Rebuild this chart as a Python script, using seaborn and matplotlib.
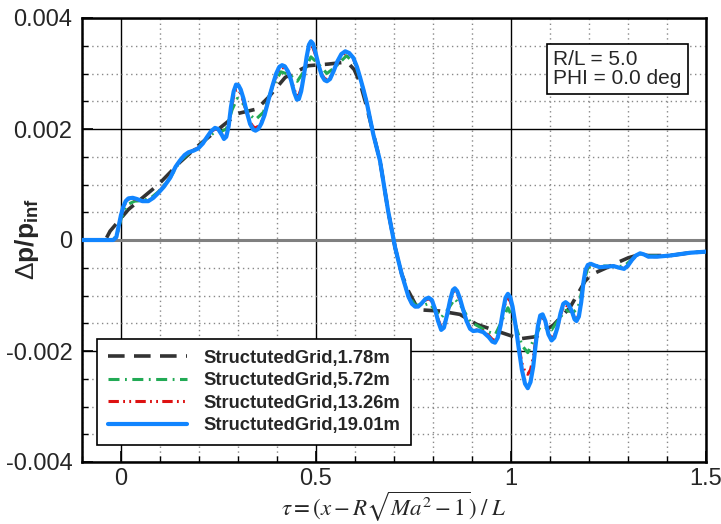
import numpy as np
import pandas as pd
import matplotlib
matplotlib.use("Agg")
import matplotlib.pyplot as plt
from matplotlib.ticker import MultipleLocator
import seaborn as sns

# ---- data: pressure signature, tau vs dp/p_inf ----
tau_g1 = [-0.10, -0.04, -0.028, 0.019, 0.096, 0.151, 0.203, 0.245, 0.300, 0.348,
          0.378, 0.421, 0.480, 0.532, 0.570, 0.585, 0.598, 0.613, 0.628, 0.643,
          0.664, 0.685, 0.703, 0.720, 0.737, 0.755, 0.771, 0.818, 0.869, 0.912,
          0.955, 1.023, 1.066, 1.109, 1.151, 1.190, 1.207, 1.245, 1.275, 1.301,
          1.331, 1.352, 1.408, 1.459, 1.500]
dp_g1 = [0.0, 0.0, 0.00016, 0.00055, 0.00100, 0.00140, 0.00173, 0.00197, 0.00228, 0.00236,
         0.00257, 0.00293, 0.00314, 0.00317, 0.00320, 0.00317, 0.00307, 0.00283, 0.00245, 0.00203,
         0.00143, 0.00052, -0.00014, -0.00062, -0.00092, -0.00116, -0.00126, -0.00128, -0.00134, -0.00152,
         -0.00162, -0.00178, -0.00174, -0.00153, -0.00122, -0.00074, -0.00062, -0.00050, -0.00040, -0.00032,
         -0.00026, -0.00028, -0.00028, -0.00023, -0.00021]

tau_g2 = [-0.10, -0.02, -0.010, 0.000, 0.010, 0.020, 0.035, 0.055, 0.075, 0.096,
          0.126, 0.151, 0.175, 0.198, 0.220, 0.241, 0.258, 0.270, 0.285, 0.298,
          0.314, 0.331, 0.345, 0.365, 0.388, 0.410, 0.432, 0.452, 0.470, 0.487,
          0.505, 0.528, 0.550, 0.578, 0.600, 0.613, 0.630, 0.647, 0.664, 0.685,
          0.703, 0.720, 0.737, 0.754, 0.775, 0.790, 0.805, 0.821, 0.838, 0.856,
          0.875, 0.895, 0.915, 0.940, 0.960, 0.975, 0.992, 1.010, 1.028, 1.043,
          1.058, 1.075, 1.090, 1.104, 1.122, 1.140, 1.160, 1.172, 1.186, 1.197,
          1.215, 1.245, 1.270, 1.290, 1.310, 1.331, 1.352, 1.408, 1.459, 1.500]
dp_g2 = [0.0, 0.0, 0.00010, 0.00038, 0.00055, 0.00065, 0.00070, 0.00071, 0.00075, 0.00087,
         0.00112, 0.00142, 0.00157, 0.00167, 0.00183, 0.00195, 0.00196, 0.00200, 0.00235, 0.00255,
         0.00245, 0.00225, 0.00217, 0.00230, 0.00275, 0.00303, 0.00298, 0.00286, 0.00305, 0.00330,
         0.00318, 0.00300, 0.00312, 0.00332, 0.00318, 0.00292, 0.00248, 0.00190, 0.00143, 0.00052,
         -0.00014, -0.00062, -0.00100, -0.00117, -0.00118, -0.00114, -0.00126, -0.00140, -0.00125, -0.00106,
         -0.00122, -0.00147, -0.00155, -0.00165, -0.00170, -0.00148, -0.00122, -0.00150, -0.00190, -0.00203,
         -0.00180, -0.00156, -0.00158, -0.00162, -0.00143, -0.00127, -0.00130, -0.00122, -0.00078, -0.00050,
         -0.00046, -0.00047, -0.00048, -0.00047, -0.00035, -0.00025, -0.00029, -0.00028, -0.00023, -0.00021]

# finer sampling shared by the two finest grids
tau_fine = [-0.10, -0.02, -0.012, -0.006, 0.000, 0.006, 0.012, 0.019, 0.030, 0.040,
            0.055, 0.070, 0.083, 0.096, 0.110, 0.126, 0.140, 0.151, 0.163, 0.173,
            0.186, 0.198, 0.210, 0.220, 0.231, 0.241, 0.249, 0.258, 0.264, 0.270,
            0.276, 0.282, 0.289, 0.295, 0.301, 0.307, 0.314, 0.322, 0.331, 0.339,
            0.345, 0.352, 0.360, 0.368, 0.378, 0.388, 0.398, 0.406, 0.413, 0.420,
            0.428, 0.436, 0.444, 0.451, 0.456, 0.462, 0.469, 0.476, 0.482, 0.487,
            0.492, 0.499, 0.507, 0.515, 0.522, 0.528, 0.536, 0.545, 0.555, 0.565,
            0.575, 0.585, 0.596, 0.605, 0.613, 0.622, 0.630, 0.647, 0.664, 0.685,
            0.703, 0.720, 0.737, 0.746, 0.754, 0.762, 0.771, 0.781, 0.789, 0.797,
            0.805, 0.813, 0.821, 0.828, 0.836, 0.844, 0.851, 0.856, 0.862, 0.869,
            0.877, 0.886, 0.895, 0.903, 0.915, 0.929, 0.943, 0.952, 0.959, 0.966,
            0.973, 0.980, 0.986, 0.992, 0.998, 1.004, 1.012, 1.020, 1.028, 1.036,
            1.043, 1.050, 1.057, 1.063, 1.069, 1.075, 1.081, 1.088, 1.096, 1.104,
            1.111, 1.119, 1.127, 1.134, 1.140, 1.147, 1.156, 1.163, 1.168, 1.174,
            1.180, 1.186, 1.191, 1.197, 1.205, 1.215, 1.228, 1.245, 1.263, 1.278,
            1.290, 1.300, 1.310, 1.320, 1.331, 1.341, 1.352, 1.375, 1.408, 1.459,
            1.500]

dp_g3 = [0.0, 0.0, 0.00005, 0.00023, 0.00043, 0.00058, 0.00068, 0.00073, 0.00074, 0.00073,
         0.00070, 0.00071, 0.00077, 0.00086, 0.00097, 0.00112, 0.00132, 0.00143, 0.00152, 0.00157,
         0.00162, 0.00166, 0.00175, 0.00185, 0.00195, 0.00200, 0.00199, 0.00191, 0.00185, 0.00189,
         0.00206, 0.00236, 0.00260, 0.00270, 0.00270, 0.00264, 0.00250, 0.00230, 0.00212, 0.00204,
         0.00202, 0.00205, 0.00213, 0.00227, 0.00252, 0.00276, 0.00297, 0.00308, 0.00311, 0.00309,
         0.00302, 0.00289, 0.00271, 0.00260, 0.00261, 0.00273, 0.00298, 0.00326, 0.00345, 0.00350,
         0.00347, 0.00333, 0.00313, 0.00298, 0.00291, 0.00289, 0.00293, 0.00305, 0.00321, 0.00332,
         0.00337, 0.00335, 0.00326, 0.00311, 0.00292, 0.00270, 0.00248, 0.00190, 0.00143, 0.00052,
         -0.00014, -0.00062, -0.00102, -0.00115, -0.00120, -0.00120, -0.00115, -0.00108, -0.00106, -0.00110,
         -0.00124, -0.00143, -0.00157, -0.00154, -0.00134, -0.00111, -0.00095, -0.00092, -0.00096, -0.00108,
         -0.00126, -0.00145, -0.00158, -0.00162, -0.00162, -0.00164, -0.00172, -0.00179, -0.00181, -0.00173,
         -0.00155, -0.00130, -0.00111, -0.00105, -0.00110, -0.00124, -0.00155, -0.00190, -0.00222, -0.00238,
         -0.00242, -0.00234, -0.00212, -0.00182, -0.00155, -0.00140, -0.00139, -0.00149, -0.00168, -0.00177,
         -0.00173, -0.00158, -0.00135, -0.00120, -0.00117, -0.00120, -0.00130, -0.00141, -0.00143, -0.00135,
         -0.00110, -0.00076, -0.00056, -0.00047, -0.00044, -0.00046, -0.00049, -0.00048, -0.00047, -0.00050,
         -0.00051, -0.00046, -0.00036, -0.00028, -0.00025, -0.00026, -0.00030, -0.00030, -0.00028, -0.00023,
         -0.00021]

dp_g4 = [0.0, 0.0, 0.00005, 0.00025, 0.00045, 0.00060, 0.00070, 0.00075, 0.00076, 0.00074,
         0.00070, 0.00070, 0.00076, 0.00085, 0.00096, 0.00112, 0.00132, 0.00143, 0.00153, 0.00158,
         0.00161, 0.00165, 0.00174, 0.00185, 0.00196, 0.00202, 0.00200, 0.00190, 0.00182, 0.00186,
         0.00205, 0.00240, 0.00268, 0.00280, 0.00279, 0.00271, 0.00255, 0.00232, 0.00209, 0.00199,
         0.00197, 0.00200, 0.00210, 0.00225, 0.00252, 0.00277, 0.00300, 0.00312, 0.00315, 0.00313,
         0.00304, 0.00288, 0.00266, 0.00253, 0.00254, 0.00268, 0.00297, 0.00330, 0.00352, 0.00358,
         0.00354, 0.00337, 0.00314, 0.00296, 0.00288, 0.00286, 0.00290, 0.00304, 0.00322, 0.00335,
         0.00340, 0.00337, 0.00328, 0.00312, 0.00293, 0.00270, 0.00248, 0.00190, 0.00143, 0.00052,
         -0.00014, -0.00062, -0.00102, -0.00115, -0.00120, -0.00120, -0.00114, -0.00106, -0.00104, -0.00108,
         -0.00124, -0.00146, -0.00162, -0.00158, -0.00135, -0.00108, -0.00090, -0.00087, -0.00092, -0.00105,
         -0.00125, -0.00146, -0.00160, -0.00164, -0.00163, -0.00166, -0.00175, -0.00183, -0.00185, -0.00176,
         -0.00155, -0.00126, -0.00104, -0.00097, -0.00103, -0.00120, -0.00155, -0.00196, -0.00234, -0.00259,
         -0.00267, -0.00256, -0.00228, -0.00190, -0.00155, -0.00136, -0.00134, -0.00146, -0.00170, -0.00181,
         -0.00176, -0.00158, -0.00132, -0.00115, -0.00112, -0.00116, -0.00128, -0.00143, -0.00146, -0.00138,
         -0.00112, -0.00075, -0.00054, -0.00045, -0.00043, -0.00046, -0.00049, -0.00048, -0.00047, -0.00050,
         -0.00052, -0.00046, -0.00036, -0.00028, -0.00024, -0.00026, -0.00030, -0.00030, -0.00028, -0.00023,
         -0.00021]

series_names = ["StructutedGrid,1.78m", "StructutedGrid,5.72m",
                "StructutedGrid,13.26m", "StructutedGrid,19.01m"]
series_tau = [tau_g1, tau_g2, tau_fine, tau_fine]
series_dp = [dp_g1, dp_g2, dp_g3, dp_g4]

x_ticks = [0, 0.5, 1, 1.5]
x_tick_labels = ["0", "0.5", "1", "1.5"]
y_ticks = [0.004, 0.002, 0.0, -0.002, -0.004]
y_tick_labels = ["0.004", "0.002", "0", "-0.002", "-0.004"]

# ---- styling ----
sns.set_theme(style="white")
plt.rcParams["font.family"] = ["Liberation Sans", "DejaVu Sans"]
plt.rcParams["mathtext.fontset"] = "custom"
plt.rcParams["mathtext.rm"] = "Liberation Sans"
plt.rcParams["mathtext.bf"] = "Liberation Sans:bold"
plt.rcParams["mathtext.it"] = "Liberation Sans:italic"

line_styles = [
    dict(color="#333333", lw=2.6, linestyle=(0, (4.6, 2.6))),
    dict(color="#22aa55", lw=2.2, linestyle=(0, (3.6, 1.8, 0.6, 1.8))),
    dict(color="#dd1111", lw=2.2, linestyle=(0, (3.4, 1.4, 0.6, 1.4, 0.6, 1.4))),
    dict(color="#1185ff", lw=3.0, linestyle="-"),
]

fig = plt.figure(figsize=(7.21, 5.24), dpi=100)
ax = fig.add_axes([82 / 721, 1 - 462 / 524, 624 / 721, 444 / 524])

# grid: dotted minor, solid major, heavier zero line
ax.set_xlim(-0.1, 1.5)
ax.set_ylim(-0.004, 0.004)
ax.xaxis.set_minor_locator(MultipleLocator(0.1))
ax.yaxis.set_minor_locator(MultipleLocator(0.0005))
ax.grid(which="minor", color="#888888", linestyle=(0, (1, 2.5)), lw=1.0, zorder=0)
ax.grid(which="major", color="black", linestyle="-", lw=1.0, zorder=0.5)
ax.set_axisbelow(True)
ax.axhline(0, color="#808080", lw=2.2, zorder=1)

for name, t, d, st in zip(series_names, series_tau, series_dp, line_styles):
    df = pd.DataFrame({"tau": t, "dp": d})
    sns.lineplot(data=df, x="tau", y="dp", ax=ax, sort=False, label=name,
                 estimator=None, zorder=3, **st)

ax.set_xticks(x_ticks)
ax.set_xticklabels(x_tick_labels)
ax.set_yticks(y_ticks)
ax.set_yticklabels(y_tick_labels)
ax.tick_params(which="major", direction="in", length=8, width=1.2, color="black",
               labelsize=17, pad=4)
ax.tick_params(which="minor", direction="in", length=4, width=1.0, color="black")
ax.tick_params(axis="y", which="major", pad=7)
ax.tick_params(left=True, bottom=True, which="both")

for sp in ax.spines.values():
    sp.set_visible(True)
    sp.set_color("black")
    sp.set_linewidth(1.8)

ax.set_xlabel(r"$\tau = (x - R\sqrt{Ma^2 - 1})\;/\;L$", fontsize=16.5,
              math_fontfamily="stix")
ax.xaxis.set_label_coords(0.5, -0.1)
ax.xaxis.label.set_va("center")
ax.set_ylabel(r"$\Delta$p/p$_{\mathbf{inf}}$", fontsize=19, fontweight="bold")
ax.yaxis.set_label_coords(-0.088, 0.503)
ax.yaxis.label.set_va("center")

leg = ax.legend(loc="lower left", bbox_to_anchor=(0.024, 0.038), borderaxespad=0,
                frameon=True, fancybox=False, shadow=False, framealpha=1,
                edgecolor="black", handlelength=4.3, handletextpad=0.9,
                labelspacing=0.3, borderpad=0.6,
                prop={"weight": "bold", "size": 13.2})
leg.get_frame().set_linewidth(1.2)

ax.text(0.755, 0.928, "R/L = 5.0\nPHI = 0.0 deg", transform=ax.transAxes,
        fontsize=15, va="top", ha="left", linespacing=1.0, zorder=6,
        bbox=dict(boxstyle="square,pad=0.3", facecolor="white",
                  edgecolor="black", lw=1.2))

fig.savefig("out.png", dpi=100)
